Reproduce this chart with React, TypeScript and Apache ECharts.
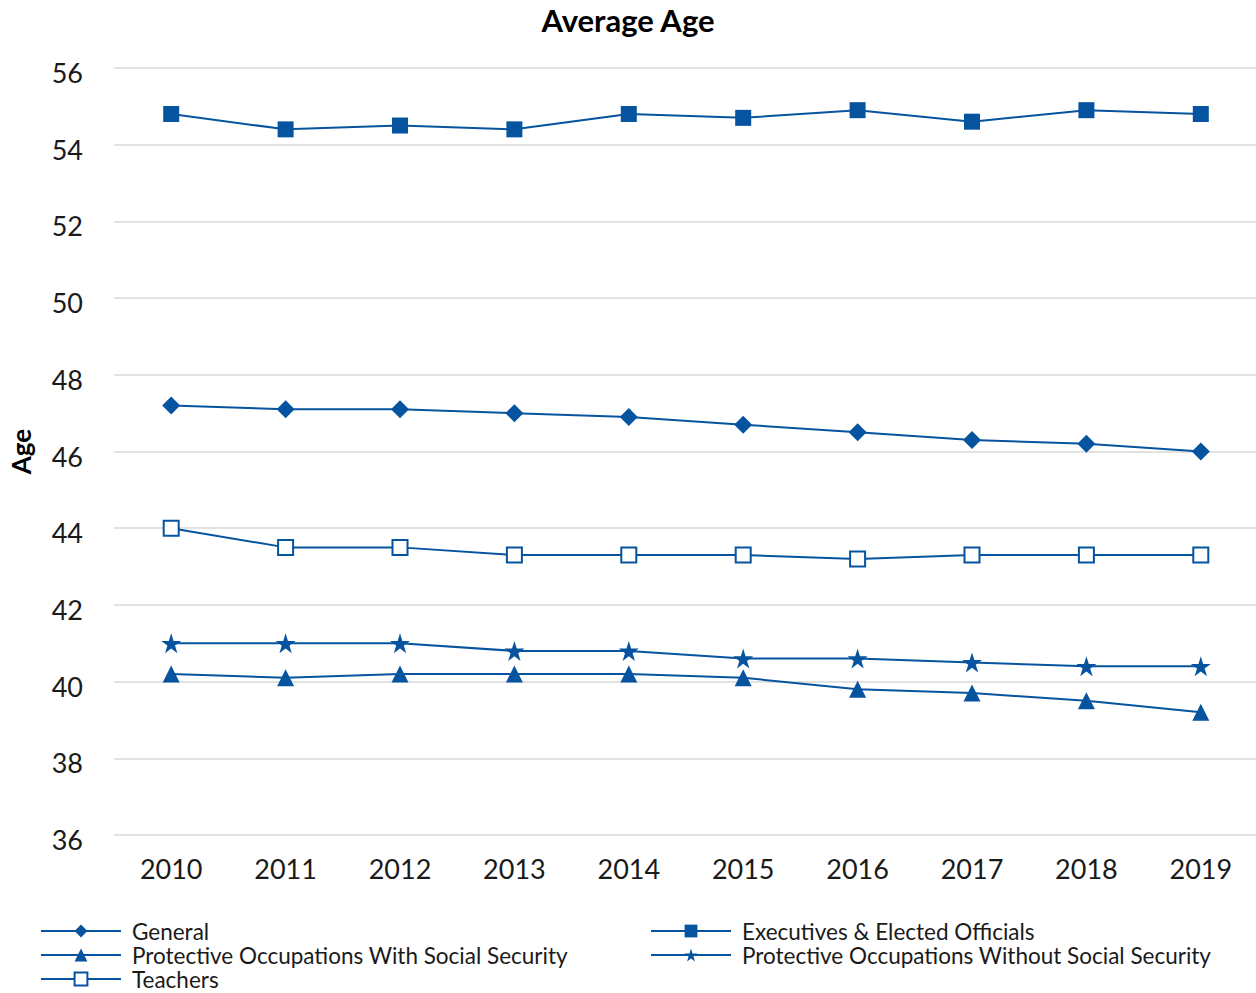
import React, { useEffect, useRef } from "react";
import * as echarts from "echarts";

const years = ["2010", "2011", "2012", "2013", "2014", "2015", "2016", "2017", "2018", "2019"];
const general = [47.2, 47.1, 47.1, 47.0, 46.9, 46.7, 46.5, 46.3, 46.2, 46.0];
const executives = [54.8, 54.4, 54.5, 54.4, 54.8, 54.7, 54.9, 54.6, 54.9, 54.8];
const protectiveWith = [40.2, 40.1, 40.2, 40.2, 40.2, 40.1, 39.8, 39.7, 39.5, 39.2];
const protectiveWithout = [41.0, 41.0, 41.0, 40.8, 40.8, 40.6, 40.6, 40.5, 40.4, 40.4];
const teachers = [44.0, 43.5, 43.5, 43.3, 43.3, 43.3, 43.2, 43.3, 43.3, 43.3];

const BLUE = "#0653a0";
const FONT = "Lato";
const STAR =
  "path://M50 0 L61.23 34.55 L97.55 34.55 L68.17 55.9 L79.39 90.45 L50 69.1 L20.61 90.45 L31.83 55.9 L2.45 34.55 L38.77 34.55 Z";

export default function App() {
  const ref = useRef<HTMLDivElement>(null);
  useEffect(() => {
    const chart = echarts.init(ref.current!, null, { renderer: "svg" });
    const mk = (name: string, data: number[], symbol: string, size: number, empty = false) => ({
      name,
      type: "line",
      data,
      symbol,
      symbolSize: size,
      showAllSymbol: true,
      lineStyle: { color: BLUE, width: 2 },
      itemStyle: empty
        ? { color: BLUE, borderColor: BLUE, borderWidth: 2 }
        : { color: BLUE, borderWidth: 0 },
      emphasis: { disabled: true },
    });
    const legendCommon = {
      orient: "vertical",
      top: 919,
      height: 120,
      padding: 0,
      itemWidth: 80,
      itemHeight: 16,
      itemGap: 0,
      textStyle: {
        fontFamily: FONT,
        fontSize: 22.5,
        color: "#1a1a1a",
        lineHeight: 24,
        padding: [0, 0, 0, 6],
      },
    };
    chart.setOption({
      animation: false,
      backgroundColor: "#ffffff",
      title: {
        text: "Average Age",
        left: "center",
        top: -1,
        textStyle: { fontFamily: FONT, fontSize: 31, fontWeight: "bold", color: "#000" },
      },
      legend: [
        {
          ...legendCommon,
          left: 40,
          data: [
            "General",
            "Protective Occupations With Social Security",
            "Teachers",
          ],
        },
        {
          ...legendCommon,
          left: 650,
          data: ["Executives & Elected Officials", "Protective Occupations Without Social Security"],
        },
      ],
      grid: { left: 114, width: 1144, top: 68, bottom: 158, outerBoundsMode: "none" },
      xAxis: {
        type: "category",
        data: years,
        boundaryGap: true,
        axisLine: { show: false },
        axisTick: { show: false },
        axisLabel: { fontFamily: FONT, fontSize: 27, color: "#1a1a1a", margin: 20 },
      },
      yAxis: {
        type: "value",
        min: 36,
        max: 56,
        interval: 2,
        name: "Age",
        nameLocation: "middle",
        nameRotate: 90,
        nameGap: 80,
        nameTextStyle: { fontFamily: FONT, fontSize: 26, fontWeight: "bold", color: "#000" },
        axisLine: { show: false },
        axisTick: { show: false },
        splitLine: { lineStyle: { color: "#e2e2e2", width: 2 } },
        axisLabel: {
          fontFamily: FONT,
          fontSize: 27,
          color: "#1a1a1a",
          margin: 31,
          verticalAlign: "top",
          lineHeight: 9,
        },
      },
      series: [
        mk("General", general, "diamond", 18),
        mk("Executives & Elected Officials", executives, "rect", 16),
        mk("Protective Occupations With Social Security", protectiveWith, "triangle", 17),
        mk("Protective Occupations Without Social Security", protectiveWithout, STAR, 20),
        mk("Teachers", teachers, "emptyRect", 15, true),
      ],
    });
    return () => chart.dispose();
  }, []);
  return (
    <div
      ref={ref}
      style={{ position: "absolute", left: 0, top: 0, width: 1256, height: 993 }}
    />
  );
}
